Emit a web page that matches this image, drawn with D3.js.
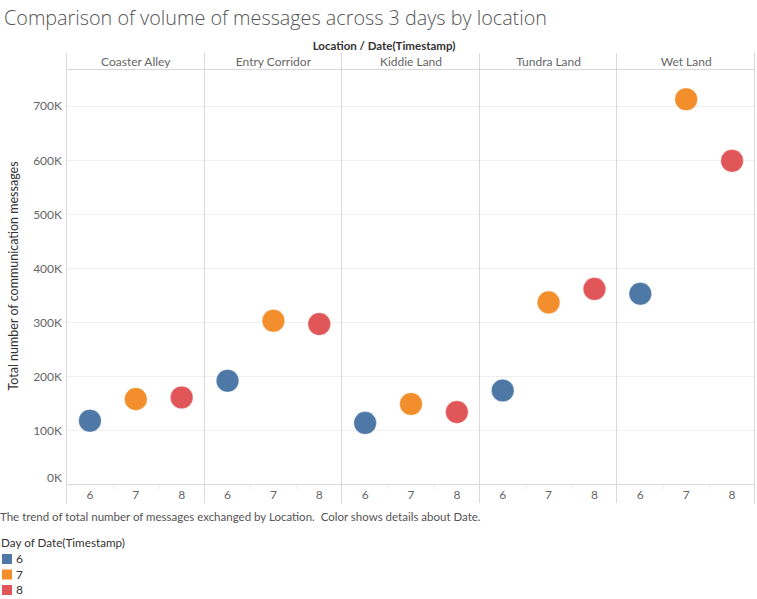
<!DOCTYPE html>
<html>
<head>
<meta charset="utf-8">
<script src="https://cdn.jsdelivr.net/npm/d3@7"></script>
<style>
  body { margin: 0; background: #fff; }
  svg { display: block; font-family: Lato, "Open Sans", sans-serif; }
  text { white-space: pre; }
</style>
</head>
<body>
<svg id="chart" width="757" height="599"></svg>
<script>
const locations = ["Coaster Alley", "Entry Corridor", "Kiddie Land", "Tundra Land", "Wet Land"];
const days = ["6", "7", "8"];
const day6 = [118000, 192000, 114000, 174000, 353000];
const day7 = [158000, 303000, 149000, 337000, 713000];
const day8 = [161000, 297000, 134000, 362000, 599000];
const yTicks = [0, 100000, 200000, 300000, 400000, 500000, 600000, 700000];
const dayColors = ["#4e79a7", "#f28e2b", "#e15759"];

const seriesByDay = [day6, day7, day8];
const points = [];
locations.forEach((loc, i) => {
  days.forEach((d, j) => points.push({ loc, day: d, value: seriesByDay[j][i] }));
});

const svg = d3.select("#chart");
const pLeft = 67, pRight = 755, pTop = 69, pBottom = 484.5;

const x = d3.scaleBand().domain(locations).range([pLeft, pRight]);
const xi = d3.scaleBand().domain(days).range([0, x.bandwidth()]);
const y = d3.scaleLinear().domain([0, 769000]).range([pBottom, pTop]);
const color = d3.scaleOrdinal().domain(days).range(dayColors);

// Title
svg.append("text").attr("x", 4).attr("y", 25)
  .attr("font-family", "'Open Sans', sans-serif")
  .attr("font-size", 19.8).attr("fill", "#555").attr("font-weight", 300)
  .text("Comparison of volume of messages across 3 days by location");

// Column header title
svg.append("text").attr("x", 384).attr("y", 50).attr("text-anchor", "middle")
  .attr("font-size", 11.5).attr("fill", "#333").attr("font-weight", 700)
  .text("Location / Date(Timestamp)");

// gridlines
svg.append("g").selectAll("line").data(yTicks.filter(t => t > 0)).join("line")
  .attr("x1", pLeft).attr("x2", pRight)
  .attr("y1", d => Math.round(y(d)) + 0.5).attr("y2", d => Math.round(y(d)) + 0.5)
  .attr("stroke", "#efefef").attr("stroke-width", 1);

// header line and axis line
svg.append("line").attr("x1", pLeft).attr("x2", pRight).attr("y1", 69.5).attr("y2", 69.5)
  .attr("stroke", "#d9d9d9");
svg.append("line").attr("x1", pLeft).attr("x2", pRight).attr("y1", 484.5).attr("y2", 484.5)
  .attr("stroke", "#d9d9d9");

// minor ticks between bands on bottom axis
const minor = [];
locations.forEach(loc => { [1, 2].forEach(k => minor.push(x(loc) + xi.step() * k)); });
svg.append("g").selectAll("line").data(minor).join("line")
  .attr("x1", d => Math.round(d) + 0.5).attr("x2", d => Math.round(d) + 0.5)
  .attr("y1", 485).attr("y2", 489).attr("stroke", "#eeeeee");

// panel separators
const seps = locations.map(l => x(l)).concat([pRight]);
svg.append("g").selectAll("line").data(seps).join("line")
  .attr("x1", d => Math.round(d) - 0.5).attr("x2", d => Math.round(d) - 0.5)
  .attr("y1", 53).attr("y2", 503)
  .attr("stroke", "#d9d9d9");

// panel headers
svg.append("g").selectAll("text").data(locations).join("text")
  .attr("x", d => x(d) + x.bandwidth() / 2).attr("y", 65.5)
  .attr("text-anchor", "middle").attr("font-size", 12).attr("fill", "#666")
  .text(d => d);

// y axis labels
svg.append("g").selectAll("text").data(yTicks).join("text")
  .attr("x", 62).attr("y", d => d === 0 ? y(d) - 7 : y(d))
  .attr("dy", "0.35em").attr("text-anchor", "end")
  .attr("font-size", 12).attr("fill", "#666")
  .text(d => d3.format("d")(d / 1000) + "K");

// y axis title
svg.append("text").attr("transform", "translate(18,276) rotate(-90)")
  .attr("text-anchor", "middle").attr("font-size", 12.5).attr("fill", "#333")
  .text("Total number of communication messages");

// bottom tick labels
const bottomLabels = [];
locations.forEach(loc => days.forEach(d => bottomLabels.push({ loc, d })));
svg.append("g").selectAll("text").data(bottomLabels).join("text")
  .attr("x", o => x(o.loc) + xi(o.d) + xi.bandwidth() / 2).attr("y", 495)
  .attr("dy", "0.35em").attr("text-anchor", "middle")
  .attr("font-size", 12).attr("fill", "#666")
  .text(o => o.d);

// points
svg.append("g").selectAll("circle").data(points).join("circle")
  .attr("cx", p => x(p.loc) + xi(p.day) + xi.bandwidth() / 2)
  .attr("cy", p => y(p.value))
  .attr("r", 11.3)
  .attr("fill", p => color(p.day))
  .attr("stroke", "#fff").attr("stroke-width", 0.5).attr("stroke-opacity", 0.6);

// caption
svg.append("text").attr("x", 0).attr("y", 521)
  .attr("font-size", 11.5).attr("fill", "#555")
  .text("The trend of total number of messages exchanged by Location.  Color shows details about Date.");

// legend
svg.append("text").attr("x", 1).attr("y", 547)
  .attr("font-size", 11.7).attr("fill", "#333")
  .text("Day of Date(Timestamp)");
const lg = svg.append("g").selectAll("g").data(days).join("g")
  .attr("transform", (d, i) => `translate(2,${554 + i * 15.5})`);
lg.append("rect").attr("width", 10).attr("height", 10).attr("fill", d => color(d));
lg.append("text").attr("x", 14).attr("y", 5).attr("dy", "0.35em")
  .attr("font-size", 12).attr("fill", "#333").text(d => d);
</script>
</body>
</html>
